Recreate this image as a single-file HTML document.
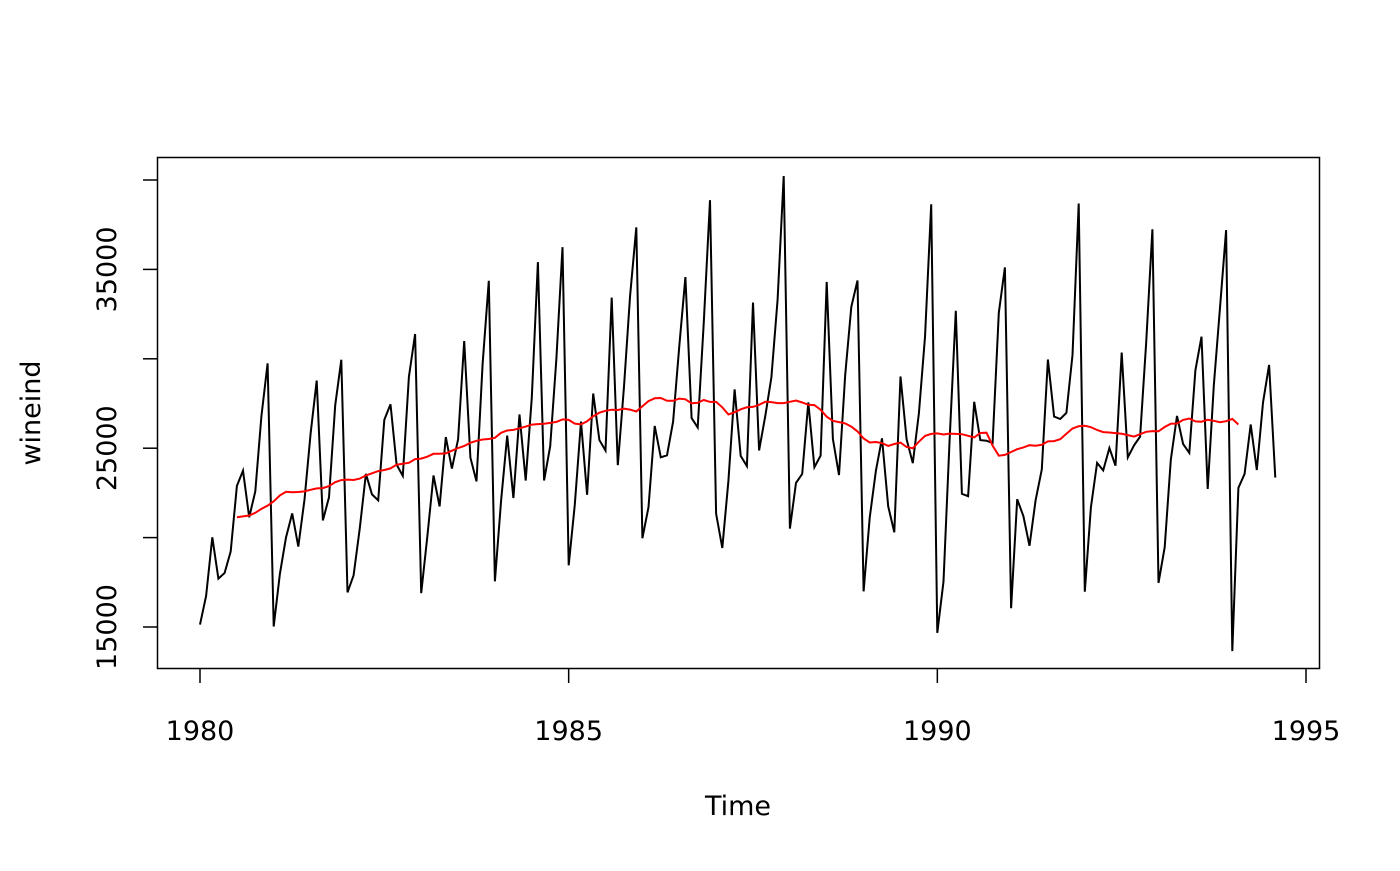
<!DOCTYPE html>
<html><head><meta charset="utf-8"><style>
body{margin:0;background:#fff}
svg text{font-family:"DejaVu Sans","Liberation Sans",sans-serif;font-size:27px;fill:#000}
</style></head><body>
<svg id="chart" width="1400" height="866" xmlns="http://www.w3.org/2000/svg">
<rect x="157.5" y="157.5" width="1162" height="511" fill="none" stroke="#000" stroke-width="1.5"/>
<g id="xaxis"></g>
<g id="yaxis"></g>
<text x="738" y="815" text-anchor="middle">Time</text>
<text transform="translate(40,413) rotate(-90)" text-anchor="middle">wineind</text>
<path id="series" fill="none" stroke="#000" stroke-width="2"/>
<path id="trend" fill="none" stroke="#ff0000" stroke-width="2"/>
</svg>
<script>
const startYear = 1980;
const wineind = [
15136,16733,20016,17708,18019,19227,22893,23739,21133,22591,26786,29740,
15028,17977,20008,21354,19498,22125,25817,28779,20960,22254,27392,29945,
16933,17892,20533,23569,22417,22084,26580,27454,24081,23451,28991,31386,
16896,20045,23471,21747,25621,23859,25500,30998,24475,23145,29701,34365,
17556,22077,25702,22214,26886,23191,27831,35406,23195,25110,30009,36242,
18450,21845,26488,22394,28057,25451,24872,33424,24052,28449,33533,37351,
19969,21701,26249,24493,24603,26485,30723,34569,26689,26157,32064,38870,
21337,19419,23166,28286,24570,24001,33151,24878,26804,28967,33311,40226,
20504,23060,23562,27562,23940,24584,34303,25517,23494,29095,32903,34379,
16991,21109,23740,25552,21752,20294,29009,25500,24166,26960,31222,38641,
14672,17543,25453,32683,22449,22316,27595,25451,25421,25288,32568,35110,
16052,22146,21198,19543,22084,23816,29961,26773,26635,26972,30207,38687,
16974,21697,24179,23757,25013,24019,30345,24488,25156,25650,30923,37240,
17466,19463,24352,26805,25236,24735,29356,31234,22724,28496,32857,37198,
13652,22784,23565,26323,23779,27549,29660,23356];
const xTicks = [1980,1985,1990,1995];
const yTicks = [15000,20000,25000,30000,35000,40000];
const yLabels = ["15000","","25000","","35000",""];

const X = t => 200 + (t - 1980) * (1306 - 200) / 15;
const Y = v => 627 - (v - 15000) * (627 - 180) / 25000;
const NS = "http://www.w3.org/2000/svg";
function mk(tag, attrs, parent){const e=document.createElementNS(NS,tag);for(const k in attrs)e.setAttribute(k,attrs[k]);parent.appendChild(e);return e;}

const xa = document.getElementById('xaxis');
xTicks.forEach(t=>{
  const l = mk('line',{x1:X(t),x2:X(t),y1:669,y2:683,stroke:'#000','stroke-width':1.5},xa);
  
  
  const tx = mk('text',{x:X(t),y:740,'text-anchor':'middle'},xa);
  tx.textContent = t;
  
  
});
const ya = document.getElementById('yaxis');
yTicks.forEach((v,i)=>{
  const l = mk('line',{x1:143,x2:157,y1:Y(v),y2:Y(v),stroke:'#000','stroke-width':1.5},ya);
  
  
  if(yLabels[i]){
    const tx = mk('text',{transform:`translate(116,${Y(v)}) rotate(-90)`,'text-anchor':'middle'},ya);
    tx.textContent = yLabels[i];
    
    
  }
});
document.getElementById('series').setAttribute('d', wineind.map((v,i)=>(i?'L':'M')+X(startYear+i/12).toFixed(1)+','+Y(v).toFixed(1)).join(''));
// centered 2x12 moving average
let d='';
for(let i=6;i<wineind.length-6;i++){
  let s=0.5*wineind[i-6]+0.5*wineind[i+6];
  for(let k=i-5;k<=i+5;k++) s+=wineind[k];
  const m=s/12;
  d+=(d?'L':'M')+X(startYear+i/12).toFixed(1)+','+Y(m).toFixed(1);
}
document.getElementById('trend').setAttribute('d',d);
</script>
</body></html>
